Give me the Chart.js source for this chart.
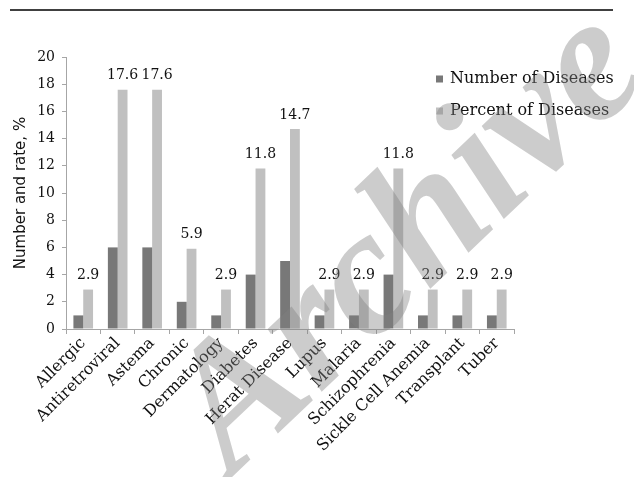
<!DOCTYPE html>
<html>
<head>
<meta charset="utf-8">
<script src="https://cdn.jsdelivr.net/npm/chart.js@4.4.1/dist/chart.umd.min.js"></script>
<style>
  html, body { margin: 0; padding: 0; background: #ffffff; }
  #wrap { width: 634px; height: 477px; position: relative; }
</style>
</head>
<body>
<div id="wrap"><canvas id="chart" width="634" height="477"></canvas></div>
<script>
// Disease categories and the two series plotted for each
const categories = ['Allergic', 'Antiretroviral', 'Astema', 'Chronic', 'Dermatology', 'Diabetes',
  'Herat Disease', 'Lupus', 'Malaria', 'Schizophrenia', 'Sickle Cell Anemia', 'Transplant', 'Tuber'];
const numberOfDiseases = [1, 6, 6, 2, 1, 4, 5, 1, 1, 4, 1, 1, 1];
const percentOfDiseases = [2.9, 17.6, 17.6, 5.9, 2.9, 11.8, 14.7, 2.9, 2.9, 11.8, 2.9, 2.9, 2.9];
const seriesNames = ['Number of Diseases', 'Percent of Diseases'];
const yTicks = [0, 2, 4, 6, 8, 10, 12, 14, 16, 18, 20];
const axisTitle = 'Number and rate, %';
const stampText = 'Archive';

const SERIF = '"DejaVu Serif", serif';
const SANS = '"DejaVu Sans", sans-serif';
const AXIS_GRAY = '#a6a6a6';

// Thin rule across the top of the figure
const topRule = {
  id: 'topRule',
  beforeDraw(chart) {
    const ctx = chart.ctx;
    ctx.save();
    ctx.strokeStyle = '#000';
    ctx.lineWidth = 1.5;
    ctx.beginPath();
    ctx.moveTo(10, 10);
    ctx.lineTo(613, 10);
    ctx.stroke();
    ctx.restore();
  }
};

// Value labels above the percent bars
const valueLabels = {
  id: 'valueLabels',
  afterDatasetsDraw(chart) {
    const ctx = chart.ctx;
    const meta = chart.getDatasetMeta(1);
    const data = chart.data.datasets[1].data;
    ctx.save();
    ctx.font = '14px ' + SERIF;
    ctx.fillStyle = '#111';
    ctx.textAlign = 'center';
    ctx.textBaseline = 'bottom';
    meta.data.forEach((bar, i) => {
      ctx.fillText(data[i].toFixed(1), bar.x, bar.y - 7);
    });
    ctx.restore();
  }
};

// Legend drawn inside the plot's upper right corner
const cornerLegend = {
  id: 'cornerLegend',
  afterDatasetsDraw(chart) {
    const ctx = chart.ctx;
    ctx.save();
    ctx.font = '16px ' + SERIF;
    ctx.textBaseline = 'middle';
    ctx.textAlign = 'left';
    chart.data.datasets.forEach((ds, i) => {
      const y = 79 + i * 32;
      ctx.fillStyle = ds.backgroundColor;
      ctx.fillRect(436, y - 3.5, 7, 7);
      ctx.fillStyle = '#111';
      ctx.fillText(ds.label, 450, y);
    });
    ctx.restore();
  }
};

// Translucent diagonal stamp over the figure
const stamp = {
  id: 'stamp',
  afterDraw(chart) {
    const ctx = chart.ctx;
    ctx.save();
    ctx.translate(232, 477);
    ctx.rotate(-43.5 * Math.PI / 180);
    ctx.font = 'italic bold 180px "Liberation Serif", serif';
    ctx.fillStyle = 'rgba(128,128,128,0.40)';
    ctx.textBaseline = 'alphabetic';
    ctx.fillText(stampText, 0, 0);
    ctx.restore();
  }
};

new Chart(document.getElementById('chart'), {
  type: 'bar',
  data: {
    labels: categories,
    datasets: [
      { label: seriesNames[0], data: numberOfDiseases, backgroundColor: '#787878' },
      { label: seriesNames[1], data: percentOfDiseases, backgroundColor: '#c0c0c0' }
    ]
  },
  options: {
    responsive: false,
    animation: false,
    events: [],
    categoryPercentage: 0.57,
    barPercentage: 1.0,
    layout: { padding: { top: 57, right: 120, left: 12, bottom: 0 } },
    plugins: {
      legend: { display: false },
      tooltip: { enabled: false },
      title: { display: false }
    },
    scales: {
      x: {
        offset: true,
        grid: { drawOnChartArea: false, drawTicks: true, tickLength: 5, color: AXIS_GRAY, offset: true },
        border: { color: AXIS_GRAY, width: 1 },
        ticks: {
          minRotation: 45, maxRotation: 45, autoSkip: false,
          font: { family: SERIF, size: 16 }, color: '#111', padding: 0
        },
        afterFit(scale) { scale.height = 148; }
      },
      y: {
        min: 0, max: 20,
        afterBuildTicks(scale) { scale.ticks = yTicks.map(v => ({ value: v })); },
        grid: { drawOnChartArea: false, drawTicks: true, tickLength: 4, color: AXIS_GRAY },
        border: { color: AXIS_GRAY, width: 1 },
        ticks: { font: { family: SERIF, size: 14 }, color: '#111', padding: 7 },
        title: { display: true, text: axisTitle, font: { family: SANS, size: 15 }, color: '#111', padding: { top: 0, bottom: 4 } },
        afterFit(scale) { scale.width = 54; }
      }
    }
  },
  plugins: [topRule, valueLabels, cornerLegend, stamp]
});
</script>
</body>
</html>
